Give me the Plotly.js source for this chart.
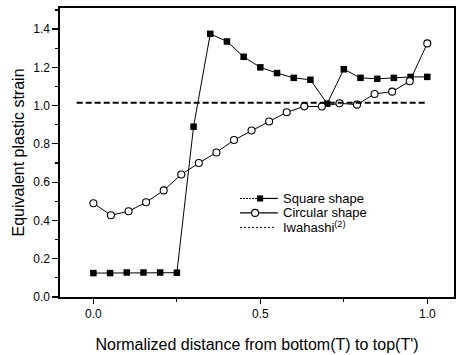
<!DOCTYPE html>
<html>
<head>
<meta charset="utf-8">
<script src="https://cdn.plot.ly/plotly-3.0.1.min.js"></script>
<style>html,body{margin:0;padding:0;background:#fff;}#chart{width:461px;height:355px;}</style>
</head>
<body>
<div id="chart"></div>
<script>
const squareX = [0, 0.05, 0.10, 0.15, 0.20, 0.25, 0.30, 0.35, 0.40, 0.45, 0.50, 0.55, 0.60, 0.65, 0.70, 0.75, 0.80, 0.85, 0.90, 0.95, 1.00];
const squareY = [0.125, 0.125, 0.128, 0.128, 0.128, 0.127, 0.89, 1.375, 1.335, 1.255, 1.20, 1.17, 1.145, 1.135, 1.01, 1.19, 1.145, 1.14, 1.145, 1.15, 1.15];
const circleX = [0, 0.0526, 0.1053, 0.1579, 0.2105, 0.2632, 0.3158, 0.3684, 0.4211, 0.4737, 0.5263, 0.5789, 0.6316, 0.6842, 0.7368, 0.7895, 0.8421, 0.8947, 0.9474, 1.0];
const circleY = [0.49, 0.427, 0.448, 0.495, 0.557, 0.64, 0.70, 0.755, 0.82, 0.87, 0.917, 0.965, 0.996, 0.995, 1.012, 1.005, 1.061, 1.073, 1.127, 1.325];
const iwaX = [-0.05, 1.0];
const iwaY = [1.015, 1.015];
const names = ["Square shape", "Circular shape", "Iwahashi<sup>(2)</sup>"];
const xTickVals = [0, 0.5, 1.0];
const xTickText = ["0.0", "0.5", "1.0"];
const yTickVals = [0, 0.2, 0.4, 0.6, 0.8, 1.0, 1.2, 1.4];
const yTickText = ["0.0", "0.2", "0.4", "0.6", "0.8", "1.0", "1.2", "1.4"];

const font = "Liberation Sans, Arial, Helvetica, sans-serif";
const traces = [
  {x: squareX, y: squareY, name: names[0], mode: "lines+markers", type: "scatter",
   line: {color: "#000", width: 1}, marker: {symbol: "square", size: 6.5, color: "#000"}},
  {x: circleX, y: circleY, name: names[1], mode: "lines+markers", type: "scatter",
   line: {color: "#000", width: 1}, marker: {symbol: "circle", size: 7, color: "#fff", line: {width: 1.1, color: "#000"}}},
  {x: iwaX, y: iwaY, name: names[2], mode: "lines", type: "scatter",
   line: {color: "#000", width: 1.8, dash: "6px,3px"}}
];

// Manual legend (paper coordinates) to match the compact spacing of the reference
const legX0 = 0.457, legX1 = 0.553, legTextX = 0.563;
const legRows = [0.341, 0.291, 0.241];
const shapes = [
  {type: "line", xref: "paper", yref: "paper", x0: legX0, x1: 0.505, y0: legRows[0], y1: legRows[0], line: {color: "#000", width: 1, dash: "2px,1px"}},
  {type: "line", xref: "paper", yref: "paper", x0: 0.505, x1: legX1, y0: legRows[0], y1: legRows[0], line: {color: "#000", width: 1.2}},
  {type: "rect", xref: "paper", yref: "paper", x0: 0.5003, x1: 0.5157, y0: legRows[0] - 0.0106, y1: legRows[0] + 0.0106, fillcolor: "#000", line: {width: 0}},
  {type: "line", xref: "paper", yref: "paper", x0: legX0, x1: legX1, y0: legRows[1], y1: legRows[1], line: {color: "#000", width: 1.2}},
  {type: "circle", xref: "paper", yref: "paper", x0: 0.4862, x1: 0.5040, y0: legRows[1] - 0.0121, y1: legRows[1] + 0.0121, fillcolor: "#fff", line: {color: "#000", width: 1.1}},
  {type: "line", xref: "paper", yref: "paper", x0: legX0, x1: 0.546, y0: legRows[2], y1: legRows[2], line: {color: "#000", width: 1, dash: "2px,2px"}}
];
const annotations = names.map((n, i) => ({
  text: n, xref: "paper", yref: "paper", x: legTextX, y: legRows[i], xanchor: "left", yanchor: "middle",
  showarrow: false, borderpad: 0, font: {size: 13, family: font, color: "#000"}
}));

const layout = {
  width: 461, height: 355,
  margin: {l: 60, r: 7, t: 8, b: 58},
  paper_bgcolor: "#fff", plot_bgcolor: "#fff",
  font: {family: font, color: "#000", size: 12},
  showlegend: false,
  shapes: shapes,
  annotations: annotations,
  xaxis: {range: [-0.1, 1.08], tickvals: xTickVals, ticktext: xTickText,
          ticks: "outside", ticklen: 5, tickwidth: 1.2, tickcolor: "#000",
          minor: {tickvals: [0.25, 0.75], ticks: "outside", ticklen: 3, tickcolor: "#000"},
          showline: true, mirror: true, linecolor: "#000", linewidth: 1.6,
          showgrid: false, zeroline: false,
          tickfont: {size: 12, family: font},
          title: {text: "Normalized distance from bottom(T) to top(T')", font: {size: 16, family: font}, standoff: 19}},
  yaxis: {range: [0, 1.51], tickvals: yTickVals, ticktext: yTickText,
          ticks: "outside", ticklen: 6, tickwidth: 1.2, tickcolor: "#000",
          minor: {dtick: 0.1, ticks: "outside", ticklen: 3, tickcolor: "#000"},
          showline: true, mirror: true, linecolor: "#000", linewidth: 1.6,
          showgrid: false, zeroline: false,
          tickfont: {size: 12, family: font},
          title: {text: "Equivalent plastic strain", font: {size: 16, family: font}, standoff: 5}}
};
Plotly.newPlot("chart", traces, layout, {displayModeBar: false, staticPlot: true});
</script>
</body>
</html>
